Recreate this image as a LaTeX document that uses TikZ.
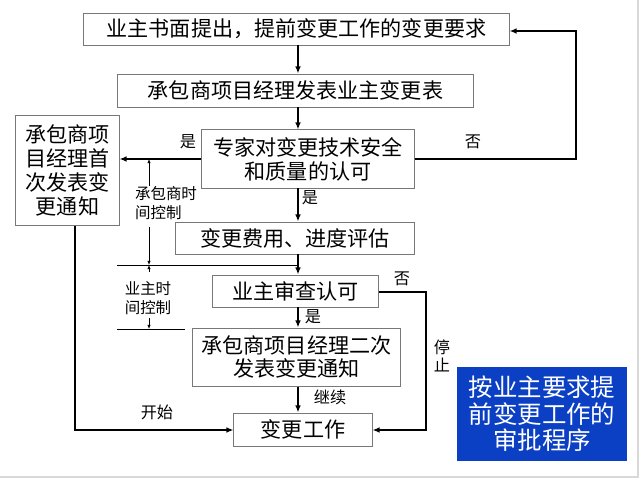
\documentclass[tikz,border=0pt]{standalone}
\usepackage{fontspec}
\setmainfont{Noto Sans CJK SC}
\usetikzlibrary{arrows.meta, positioning, calc}
\definecolor{slideblue}{RGB}{12,64,196}
\definecolor{boxline}{RGB}{120,120,120}

\begin{document}
\begin{tikzpicture}[x=0.025cm, y=-0.025cm,
  box/.style={draw=boxline, line width=0.7pt, fill=white, inner sep=0pt, align=center,
    font=\fontsize{15}{17}\selectfont},
  flow/.style={line width=1.3pt, -{Latex[length=5pt,width=4pt]}},
  lbl/.style={inner sep=0pt, font=\fontsize{11.5}{13}\selectfont},
  tlbl/.style={inner sep=0pt, align=left, font=\fontsize{11}{13.5}\selectfont},
  dim/.style={line width=0.5pt, -{Latex[length=3pt,width=2.5pt]}}]
  \useasboundingbox (0,0) rectangle (640,479);
  \fill[white] (0,0) rectangle (640,479);
  \draw[black!15, line width=1pt] (638,0) -- (638,477) -- (0,477);

  % main column
  \node[box, minimum width=10.625cm, minimum height=0.8cm] (req) at (296.5,29) {业主书面提出，提前变更工作的变更要求};
  \node[box, minimum width=8.875cm, minimum height=0.825cm] (form) at (295.5,90.5) {承包商项目经理发表业主变更表};
  \node[box, minimum width=5.3cm, minimum height=1.45cm] (expert) at (308,159) {专家对变更技术安全\\和质量的认可};
  \node[box, minimum width=5.95cm, minimum height=0.8cm] (assess) at (295,238) {变更费用、进度评估};
  \node[box, minimum width=4.125cm, minimum height=0.8cm] (review) at (295.5,291) {业主审查认可};
  \node[box, minimum width=5.175cm, minimum height=1.45cm] (second) at (296.5,357) {承包商项目经理二次\\发表变更通知};
  \node[box, minimum width=3.45cm, minimum height=0.825cm] (work) at (303,429.5) {变更工作};
  % left box
  \node[box, minimum width=2.575cm, minimum height=2.725cm] (first) at (67.5,170.5) {承包商项\\目经理首\\次发表变\\更通知};

  \coordinate (spine) at (298,0);
  \draw[flow] (req.south -| spine) -- (form.north -| spine);
  \draw[flow] (form.south -| spine) -- (expert.north -| spine);
  \draw[flow] (expert.south -| spine) -- (assess.north -| spine);
  \draw[flow] (assess.south -| spine) -- (review.north -| spine);
  \draw[flow] (review.south -| spine) -- (second.north -| spine);
  \draw[flow] (second.south -| spine) -- (work.north -| spine);

  % branches
  \coordinate (nr1) at (576,159);
  \coordinate (nr2) at (576,31);
  \draw[flow] (expert.east |- nr1) -- (nr1) -- (nr2) -- (req.east |- nr2);
  \draw[flow] (expert.west |- nr1) -- (first.east |- nr1);
  \coordinate (st1) at (426,292);
  \coordinate (st2) at (426,430);
  \draw[flow] (review.east |- st1) -- (st1) -- (st2) -- (work.east |- st2);
  \coordinate (go1) at (75,430);
  \draw[flow] (first.south -| go1) -- (go1) -- (work.west |- go1);

  \node[lbl] (yes1) at (188,142) {是};
  \node[lbl] (no1) at (473,142) {否};
  \node[lbl] (yes2) at (310,198) {是};
  \node[lbl] (no2) at (402,279) {否};
  \node[lbl] (yes3) at (313,317) {是};
  \node[lbl] (cont) at (330,397) {继续};
  \node[lbl] (start) at (157,412) {开始};
  \node[lbl, align=center] (stop) at (442,356) {停\\止};

  % time control
  \coordinate (tc) at (149,159);
  \coordinate (tm) at (149,265);
  \coordinate (tb) at (149,329);
  \draw[line width=0.5pt] (117,265) -- (spine |- tm);
  \draw[line width=0.5pt] (117,329) -- (185,329);
  \node[tlbl] (ctime) at (166,203) {承包商时\\间控制};
  \node[tlbl] (otime) at (148,298) {业主时\\间控制};
  \draw[dim] (tc |- 0,186) -- (tc);
  \draw[dim] (tc |- 0,227) -- (tm);
  \draw[dim] (tc |- 0,272) -- (tm);
  \draw[dim] (tc |- 0,318) -- (tb);

  % title
  \node[fill=slideblue, text=white, inner sep=0pt, minimum width=4.25cm, minimum height=2.35cm,
    align=center, font=\fontsize{17.4}{18.9}\selectfont] (title) at (542,414) {按业主要求提\\前变更工作的\\审批程序};
\end{tikzpicture}
\end{document}
